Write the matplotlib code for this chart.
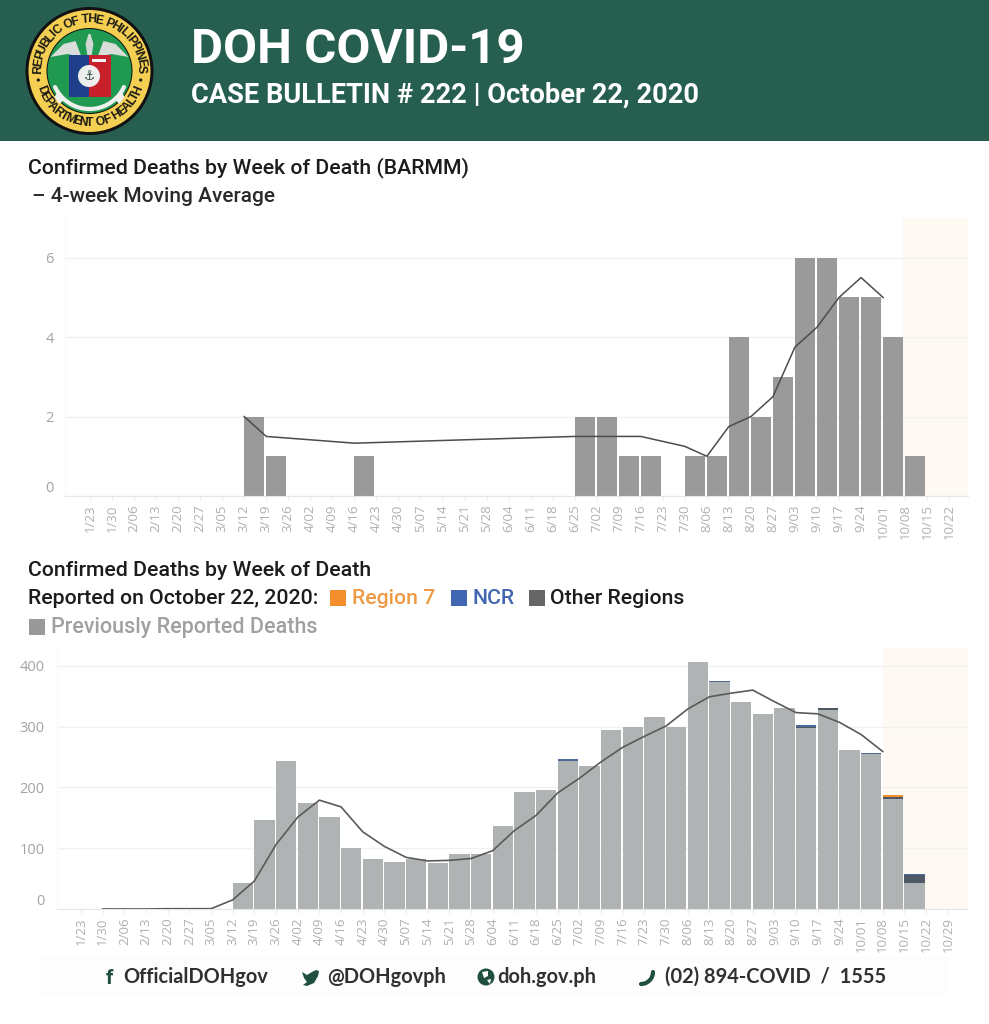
import numpy as np
import matplotlib
matplotlib.use("Agg")
import matplotlib.pyplot as plt
from matplotlib.patches import Circle, Polygon, Rectangle
from matplotlib.textpath import TextPath
from matplotlib.font_manager import FontProperties

W, H = 989, 1024

weeks = ["1/23","1/30","2/06","2/13","2/20","2/27","3/05","3/12","3/19","3/26","4/02","4/09","4/16","4/23",
         "4/30","5/07","5/14","5/21","5/28","6/04","6/11","6/18","6/25","7/02","7/09","7/16","7/23","7/30",
         "8/06","8/13","8/20","8/27","9/03","9/10","9/17","9/24","10/01","10/08","10/15","10/22","10/29"]

barmm_weeks = ["3/12","3/19","4/16","6/25","7/02","7/09","7/16","7/30","8/06","8/13","8/20","8/27","9/03","9/10","9/17","9/24","10/01","10/08"]
barmm_deaths = [2,1,1,2,2,1,1,1,1,4,2,3,6,6,5,5,4,1]
barmm_avg_weeks = ["3/12","3/19","4/16","6/25","7/02","7/09","7/16","7/30","8/06","8/13","8/20","8/27","9/03","9/10","9/17","9/24","10/01"]
barmm_avg = [2,1.5,1.33,1.5,1.5,1.5,1.5,1.25,1,1.75,2,2.5,3.75,4.25,5,5.5,5]

nat_weeks = weeks[7:39]
nat_prev = [43,146,243,174,152,101,82,78,83,75,90,90,136,193,196,244,235,294,299,316,300,407,373,340,321,331,297,328,261,255,181,43]
nat_other = [0,0,0,0,0,0,0,0,0,0,0,0,0,0,0,0,0,0,0,0,0,0,0,0,0,0,3,3,0,0,4,13]
nat_ncr = [0,0,0,0,0,0,0,0,0,0,0,0,0,0,0,2,0,0,0,0,0,0,2,0,0,0,2,0,0,1,0,1]
nat_r7 = [0,0,0,0,0,0,0,0,0,0,0,0,0,0,0,0,0,0,0,0,0,0,0,0,0,0,0,0,0,0,3,0]
nat_avg_weeks = weeks[1:38]
nat_avg = [0,0,0,0.5,0.5,0.5,15,46,106,151,179,168,127,103,85,79,80,83,96,129,154,191,215,242,266,284,301,329,349,355,360,341,323,321,307,287,259]

C_HEAD = "#265e50"; C_BAND = "#fef9f2"; C_GRID = "#f1f1f1"; C_TICK = "#b0b0b0"
C_B1 = "#9a9a9a"; C_B2 = "#b0b3b4"; C_LINE = "#5a5a5a"
C_R7 = "#f28e2b"; C_NCR = "#4267b2"; C_OTHER = "#666666"; C_PREV = "#999999"
TF = "Open Sans"

fig = plt.figure(figsize=(W/100, H/100), dpi=100, facecolor="white")

def make_ax(l, r, t, b):
    return fig.add_axes([l/W, 1-b/H, (r-l)/W, (b-t)/H])

def style(ax, labels, yticks, band_from, pad):
    ax.axvspan(band_from, ax.get_xlim()[1], color=C_BAND, lw=0, zorder=0)
    ax.set_yticks(yticks)
    ax.yaxis.grid(True, color=C_GRID, lw=1); ax.set_axisbelow(True)
    for s in ["top", "right"]:
        ax.spines[s].set_visible(False)
    ax.spines["left"].set_color("#fbfbf4"); ax.spines["left"].set_linewidth(1)
    ax.spines["bottom"].set_color("#e6e6e6"); ax.spines["bottom"].set_linestyle((0, (1, 1)))
    ax.set_xticks(range(len(labels)))
    ax.set_xticklabels(labels, rotation=90, family=TF, fontsize=9.5, color=C_TICK)
    ax.tick_params(axis="x", length=3, color="#ececec", pad=3)
    ax.tick_params(axis="y", length=0, pad=pad)
    for t in ax.get_yticklabels():
        t.set_family(TF); t.set_fontsize(10.5); t.set_color("#a3a3a3")
    ax.get_yticklabels()[0].set_va("bottom")

# top chart
ax1 = make_ax(65, 968, 218, 496)
ax1.set_xlim((65-90)/22.03, (968-90)/22.03)
ax1.set_ylim(0, 7)
style(ax1, weeks[:40], [0, 2, 4, 6], 36.9, 8)
ax1.bar([weeks.index(w) for w in barmm_weeks], barmm_deaths, width=0.91, align="edge", color=C_B1, zorder=2)
ax1.plot([weeks.index(w) for w in barmm_avg_weeks], barmm_avg, color="#4c4c4c", lw=1.1, zorder=3)

# bottom chart
ax2 = make_ax(57, 968, 648, 909)
ax2.set_xlim((57-81)/21.67, (968-81)/21.67)
ax2.set_ylim(0, 261/0.608)
style(ax2, weeks, [0, 100, 200, 300, 400], 37, 9)
xs = [weeks.index(w) for w in nat_weeks]
p = np.array(nat_prev, float); o = np.array(nat_other, float); n = np.array(nat_ncr, float); r7 = np.array(nat_r7, float)
ax2.bar(xs, p, width=0.93, align="edge", color=C_B2, zorder=2)
ax2.bar(xs, o, bottom=p, width=0.93, align="edge", color="#4f5865", zorder=2)
ax2.bar(xs, n, bottom=p+o, width=0.93, align="edge", color="#4a6a9a", zorder=2)
ax2.bar(xs, r7, bottom=p+o+n, width=0.93, align="edge", color=C_R7, zorder=2)
ax2.plot([weeks.index(w) for w in nat_avg_weeks], nat_avg, color=C_LINE, lw=1.2, zorder=3)

# overlay in pixel coordinates
ov = fig.add_axes([0, 0, 1, 1], zorder=5)
ov.set_xlim(0, W); ov.set_ylim(H, 0); ov.axis("off"); ov.patch.set_alpha(0)

ov.add_patch(Rectangle((0, 0), W, 141, color=C_HEAD, lw=0))
ov.add_patch(Rectangle((40, 956), 907, 40, color="#fdfdfd", lw=0))

ov.text(191, 50, "DOH COVID-19", family="Roboto", fontweight="bold", fontsize=35.5, color="white", va="center", ha="left")
ov.text(191, 95, "CASE BULLETIN # 222 | October 22, 2020", family="Roboto", fontweight="bold", fontsize=19.6, color="white", va="center", ha="left")

HF = "Roboto"; HW = "medium"; HS = 15.3
ov.text(28, 168, "Confirmed Deaths by Week of Death (BARMM)", family=HF, fontweight=HW, fontsize=HS, color="#1c1c1c", va="center")
ov.text(32, 197, "– 4-week Moving Average", family=HF, fontweight=HW, fontsize=15, color="#2a2a2a", va="center")
ov.text(28, 570, "Confirmed Deaths by Week of Death", family=HF, fontweight=HW, fontsize=HS, color="#1c1c1c", va="center")
ov.text(28, 599, "Reported on October 22, 2020:", family=HF, fontweight=HW, fontsize=HS, color="#1c1c1c", va="center")
for x, c in [(330, C_R7), (451, C_NCR), (529, C_OTHER)]:
    ov.add_patch(Rectangle((x, 590), 16, 16, color=c, lw=0))
ov.text(352, 599, "Region 7", family=HF, fontweight=HW, fontsize=HS, color="#ee9a45", va="center")
ov.text(472, 599, "NCR", family=HF, fontweight=HW, fontsize=HS, color=C_NCR, va="center")
ov.text(550, 599, "Other Regions", family=HF, fontweight=HW, fontsize=HS, color="#1c1c1c", va="center")
ov.add_patch(Rectangle((29, 619), 16, 16, color=C_PREV, lw=0))
ov.text(51, 628, "Previously Reported Deaths", family=HF, fontweight=HW, fontsize=15.5, color="#a0a0a0", va="center")

# logo
cx, cy = 89.5, 71
ov.add_patch(Circle((cx, cy), 64, color="#111111", lw=0))
ov.add_patch(Circle((cx, cy), 61, color="#f4cf52", lw=0))
ov.add_patch(Circle((cx, cy), 43, color="#111111", lw=0))
ov.add_patch(Circle((cx, cy), 42, color="#1f9a50", lw=0))
for sgn in (-1, 1):
    ov.add_patch(Polygon([(cx+sgn*8, 57), (cx+sgn*14, 41), (cx+sgn*26, 44), (cx+sgn*39, 57), (cx+sgn*22, 54)], color="#d9dedb", lw=0))
    ov.add_patch(Polygon([(cx+sgn*26, 100), (cx+sgn*32, 92), (cx+sgn*35, 97), (cx+sgn*30, 104)], color="#eef0ee", lw=0))
ov.add_patch(Polygon([(cx-1, 34), (cx+1, 34), (cx+4, 44), (cx+2, 56), (cx-2, 56), (cx-4, 44)], color="#cfd8d2", lw=0))
ov.add_patch(Rectangle((69, 55), 20, 42, color="#1f3f8a", lw=0))
ov.add_patch(Rectangle((89, 55), 22, 42, color="#c8202a", lw=0))
ov.add_patch(Rectangle((92, 59), 14, 3, color="#f2f2f2", lw=0))
ov.add_patch(Circle((89, 76), 11, color="#eeeeee", lw=0))
ov.text(89, 76, "⚓", fontsize=9, color="#2b4a45", ha="center", va="center", family="DejaVu Sans")
t = np.radians(np.linspace(205, 335, 30))
ov.plot(cx+38*np.cos(t), cy-38*np.sin(t), color="#eef0ee", lw=3, solid_capstyle="round")

def arc_text(s, radius, start, end, flip, size):
    fp = FontProperties(family="Liberation Sans", weight="bold", size=size)
    widths = [max(TextPath((0, 0), c, prop=fp).get_extents().width if c != " " else size*0.3, size*0.3)+size*0.12 for c in s]
    cum = np.cumsum(widths) - np.array(widths)/2
    frac = cum / sum(widths)
    for c, f in zip(s, frac):
        a = start + (end-start)*f
        r = np.radians(a)
        x, y = cx+radius*np.cos(r), cy-radius*np.sin(r)
        rot = a-90 if not flip else a+90
        ov.text(x, y, c, fontproperties=fp, color="#1c1c14", rotation=rot, rotation_mode="anchor", ha="center", va="center")

arc_text("REPUBLIC OF THE PHILIPPINES", 51.5, 182, -2, False, 8.8)
arc_text("DEPARTMENT OF HEALTH", 52, 198, 342, True, 8.8)
for a in (190, 350):
    ov.add_patch(Circle((cx+52*np.cos(np.radians(a)), cy-52*np.sin(np.radians(a))), 1.6, color="#1c1c14", lw=0))

# footer
FC = "#303030"; IC = "#1f4f3f"
FF = "Lato"; FS = 14.4
ov.text(123, 977, "OfficialDOHgov", family=FF, fontweight="bold", fontsize=FS, color=FC, va="center")
ov.text(327, 977, "@DOHgovph", family=FF, fontweight="bold", fontsize=FS, color=FC, va="center")
ov.text(497, 977, "doh.gov.ph", family=FF, fontweight="bold", fontsize=FS, color=FC, va="center")
ov.text(665, 977, "(02) 894-COVID  /  1555", family=FF, fontweight="bold", fontsize=FS, color=FC, va="center")
ov.text(109, 978, "f", family="Roboto", fontweight="bold", fontsize=15, color=IC, va="center", ha="center")
ov.add_patch(Polygon([(302, 972), (307, 975), (312, 972), (316, 970), (319, 971), (318, 976), (314, 983), (307, 986), (303, 985), (307, 982), (304, 978)], color=IC, lw=0))
ov.add_patch(Circle((486, 977), 8.5, color=IC, lw=0))
ov.add_patch(Polygon([(482, 972), (488, 971), (488, 976), (484, 978)], color="white", lw=0))
ov.add_patch(Polygon([(487, 980), (491, 979), (490, 984)], color="white", lw=0))
t2 = np.radians(np.linspace(-90, 0, 12))
ov.plot(641+12*np.cos(t2), 972-12*np.sin(t2), color=IC, lw=3, solid_capstyle="round")

fig.savefig("out.png", dpi=100, facecolor="white")
